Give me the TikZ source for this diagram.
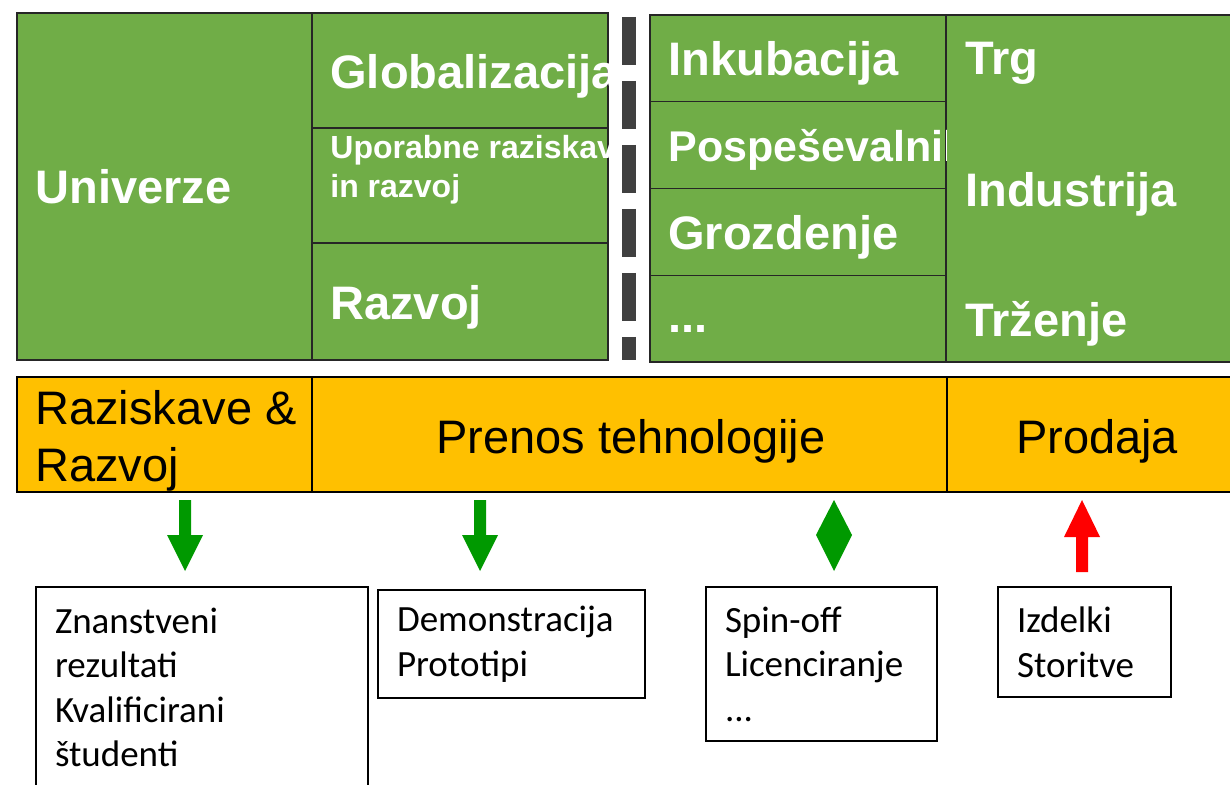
\documentclass[tikz,border=0pt]{standalone}
\usepackage{fontspec}
\setmainfont{Liberation Sans}
\newfontfamily\calibri{Carlito}

\definecolor{cellgreen}{HTML}{70AD47}
\definecolor{baryellow}{HTML}{FFC000}
\definecolor{arrowgreen}{HTML}{009900}
\definecolor{dashgray}{HTML}{404040}

\begin{document}
\begin{tikzpicture}[x=0.5pt, y=-0.5pt,
  cell/.style={draw=black!85, line width=0.7pt, fill=cellgreen, rectangle, inner sep=0pt, outer sep=0pt, anchor=north west},
  celltext/.style={text=white, font=\bfseries\fontsize{23.5}{28}\selectfont, anchor=base west, inner sep=0pt},
  phase/.style={draw=black, line width=1.2pt, fill=baryellow, rectangle, inner sep=0pt, outer sep=0pt, anchor=north west,
    minimum height=57.5pt},
  phasetext/.style={inner sep=0pt, anchor=base, font=\fontsize{23.5}{28}\selectfont},
  result/.style={draw=black, line width=0.7pt, fill=white, rectangle, inner xsep=9.5pt, inner ysep=0pt, outer sep=0pt,
    anchor=north west, align=left, font=\calibri\fontsize{18.5}{22.3}\selectfont}]
\useasboundingbox (0,0) rectangle (1230,785);

% Green blocks
\node[cell, minimum width=147.5pt, minimum height=173.5pt] (univ) at (17,13) {};
\node[cell, minimum width=148pt, minimum height=57.5pt] (glob) at (312,13) {};
\node[cell, minimum width=148pt, minimum height=57.5pt] (upor) at (312,128) {};
\node[cell, minimum width=148pt, minimum height=58.5pt] (razv) at (312,243) {};
\node[cell, minimum width=148pt, minimum height=43.4pt] (inku) at (650,15) {};
\node[cell, minimum width=148pt, minimum height=43.4pt] (posp) at (650,101.75) {};
\node[cell, minimum width=148pt, minimum height=43.4pt] (groz) at (650,188.5) {};
\node[cell, minimum width=148pt, minimum height=43.4pt] (dots) at (650,275.25) {};
\node[cell, minimum width=150pt, minimum height=173.5pt] (trg) at (946,15) {};

% Separator
\draw[dashgray, line width=7pt, dash pattern=on 24pt off 8pt] (629,17) -- (629,360);

% Texts in green blocks
\node[celltext] (univt) at (35,204) {Univerze};
\begin{scope}
\clip (312,13) rectangle (608,360);
\node[celltext] (globt) at (330,89) {Globalizacija};
\node[celltext, font=\bfseries\fontsize{16}{19.5}\selectfont, align=left, anchor=north west] (uport) at (330,135) {Uporabne raziskave\\in razvoj};
\node[celltext] (razvt) at (330,320) {Razvoj};
\end{scope}
\begin{scope}
\clip (650,15) rectangle (946,362);
\node[celltext] (inkut) at (668,76) {Inkubacija};
\node[celltext, font=\bfseries\fontsize{21.5}{26}\selectfont] (pospt) at (668,162) {Pospeševalnik};
\node[celltext] (grozt) at (668,250) {Grozdenje};
\node[celltext] (dotst) at (668,333) {...};
\end{scope}
\node[celltext] (trgt) at (965,75) {Trg};
\node[celltext] (indt) at (965,207) {Industrija};
\node[celltext] (trzt) at (965,337) {Trženje};

% Phases
\node[phase, minimum width=147.5pt] (rr) at (17,377) {};
\node[phase, minimum width=317.5pt] (pt) at (312,377) {};
\node[phase, minimum width=150pt] (pr) at (947,377) {};
\node[phasetext, anchor=base west] (rrt1) at (35,425) {Raziskave \&};
\node[phasetext, anchor=base west] (rrt2) at (35,481) {Razvoj};
\node[phasetext] (ptt) at (631,453) {Prenos tehnologije};
\node[phasetext] (prt) at (1097,453) {Prodaja};

% Arrows
\begin{scope}[shift={(185,0)}]
\fill[arrowgreen] (-6,500) -- (6,500) -- (6,535) -- (18,535) -- (0,571) -- (-18,535) -- (-6,535) -- cycle;
\end{scope}
\begin{scope}[shift={(480,0)}]
\fill[arrowgreen] (-6,500) -- (6,500) -- (6,535) -- (18,535) -- (0,571) -- (-18,535) -- (-6,535) -- cycle;
\end{scope}
\fill[arrowgreen] (834,500) -- (852,535) -- (834,571) -- (816,535) -- cycle;
\begin{scope}[shift={(1082,0)}]
\fill[red] (-6,572) -- (6,572) -- (6,537) -- (18,537) -- (0,500) -- (-18,537) -- (-6,537) -- cycle;
\end{scope}

% Results
\node[result, minimum width=166pt, minimum height=100.5pt, text width=147pt] (znan) at (36,587) {Znanstveni\\rezultati\\Kvalificirani\\študenti};
\node[result, minimum width=133.5pt, minimum height=54pt, text width=114.5pt] (demo) at (378,590) {Demonstracija\\Prototipi};
\node[result, minimum width=115.5pt, minimum height=77pt, text width=96.5pt] (spin) at (706,587) {Spin-off\\Licenciranje\\...};
\node[result, minimum width=86.5pt, minimum height=55pt, text width=67.5pt] (izde) at (998,587) {Izdelki\\Storitve};
\end{tikzpicture}
\end{document}
